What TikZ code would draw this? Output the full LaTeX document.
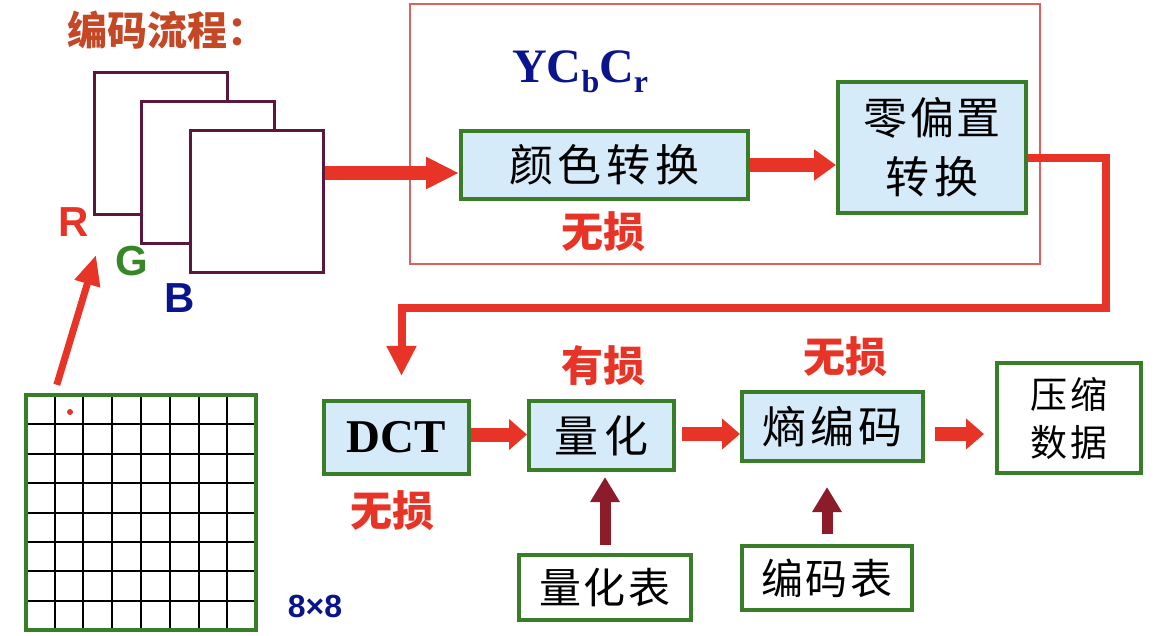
\documentclass[tikz,border=0pt]{standalone}
\usepackage{fontspec}
\setmainfont{Liberation Serif}
\setsansfont{Liberation Sans}
\newfontfamily\cjk{Noto Sans CJK SC}
\usetikzlibrary{arrows.meta,calc}
\definecolor{titlered}{RGB}{196,72,38}
\definecolor{lblred}{RGB}{232,52,38}
\definecolor{arrred}{RGB}{232,52,38}
\definecolor{boxgreen}{RGB}{58,125,40}
\definecolor{boxblue}{RGB}{214,235,250}
\definecolor{framepurple}{RGB}{90,25,60}
\definecolor{navyblue}{RGB}{10,20,140}
\definecolor{ggreen}{RGB}{55,135,40}
\definecolor{darkred}{RGB}{140,28,42}
\definecolor{framered}{RGB}{225,95,95}
\newcommand\cgap[1]{\hspace{#1pt}}
\begin{document}
\begin{tikzpicture}[x=1pt,y=-1pt,
  box/.style={draw=boxgreen, line width=4pt, fill=boxblue, inner sep=0pt},
  wbox/.style={draw=boxgreen, line width=4pt, fill=white, inner sep=0pt},
  boxtxt/.style={font=\cjk\fontsize{44}{48}\selectfont, text=black},
  lbl/.style={font=\cjk\bfseries\fontsize{42}{46}\selectfont, text=lblred, inner sep=0pt},
  rgbl/.style={font=\sffamily\bfseries\fontsize{42}{46}\selectfont, inner sep=0pt},
  frame/.style={draw=framepurple, line width=3pt, fill=white, minimum width=133pt, minimum height=142pt, inner sep=0pt},
  bigarrow/.style={draw=arrred, line width=14pt, -{Triangle[length=22pt,width=30pt]}},
  bentarrow/.style={draw=arrred, line width=8pt, -{Triangle[length=30pt,width=28pt]}},
  slimarrow/.style={draw=arrred, line width=7pt, -{Triangle[length=30pt,width=25pt]}},
  darkarrow/.style={draw=darkred, line width=11pt, -{Triangle[length=25pt,width=28pt]}}
]
\useasboundingbox (0,0) rectangle (1157,636);

% title
\node[font=\cjk\bfseries\fontsize{40}{44}\selectfont, text=titlered, inner sep=0pt] (title) at (167,30) {编码流程：};

% RGB frames
\node[frame] (frameR) at (161,143.5) {};
\node[frame] (frameG) at (208,172.5) {};
\node[frame] (frameB) at (257,202) {};
\node[rgbl, text=lblred] (lR) at (74,222) {R};
\node[rgbl, text=ggreen] (lG) at (132,261) {G};
\node[rgbl, text=navyblue] (lB) at (180,298) {B};

% 8x8 grid
\node[draw=none, fill=white, minimum width=230pt, minimum height=235pt, inner sep=0pt] (grid) at (141,512.5) {};
\foreach \i in {1,...,7}{
  \draw[black, line width=2pt] ($(grid.north west)!\i/8!(grid.north east)$) -- ($(grid.south west)!\i/8!(grid.south east)$);
  \draw[black, line width=2pt] ($(grid.north west)!\i/8!(grid.south west)$) -- ($(grid.north east)!\i/8!(grid.south east)$);
}
\draw[boxgreen, line width=4pt] (grid.north west) rectangle (grid.south east);
\fill[lblred] (70,412) circle[radius=3pt];
\node[font=\sffamily\bfseries\fontsize{32}{36}\selectfont, text=navyblue, inner sep=0pt] (eight) at (315,606) {8×8};

% arrow grid -> RGB
\coordinate (rgbtip) at (96,255);
\draw[slimarrow] ([xshift=31pt,yshift=10pt]grid.north west) -- (rgbtip);

% red frame
\node[draw=framered, line width=1.2pt, minimum width=630pt, minimum height=260pt, inner sep=0pt] (redframe) at (725,134) {};
\node[font=\bfseries\fontsize{48}{52}\selectfont, text=navyblue, inner sep=0pt, anchor=west] (ycc) at (512,72)
  {YC\raisebox{-10pt}{\fontsize{32}{32}\selectfont b}C\raisebox{-10pt}{\fontsize{32}{32}\selectfont r}};

% upper boxes
\node[box, boxtxt, minimum width=287pt, minimum height=68pt] (color) at (604.5,165) {颜\cgap{5}色\cgap{5}转\cgap{5}换};
\node[box, minimum width=188pt, minimum height=131pt, font=\cjk\fontsize{44}{59}\selectfont, align=center] (zero) at (932,147.5) {零\cgap{3}偏\cgap{3}置\\转\cgap{6}换};
\node[lbl] (l1) at (603,232) {无损};

% lower boxes
\node[box, minimum width=145pt, minimum height=73pt, font=\bfseries\fontsize{47}{50}\selectfont] (dct) at (396.5,437.5) {DCT};
\node[box, boxtxt, minimum width=145pt, minimum height=69pt] (quant) at (601.5,435.5) {量\cgap{6}化};
\node[box, boxtxt, minimum width=181pt, minimum height=69pt] (entropy) at (832.5,426.5) {熵\cgap{4}编\cgap{4}码};
\node[wbox, minimum width=144pt, minimum height=110pt, font=\cjk\fontsize{37}{48}\selectfont, align=center] (comp) at (1069,418) {压\cgap{3}缩\\数\cgap{3}据};
\node[wbox, minimum width=172pt, minimum height=65pt, font=\cjk\fontsize{42}{46}\selectfont] (qtable) at (605,587.5) {量\cgap{3}化\cgap{3}表};
\node[wbox, minimum width=170pt, minimum height=64pt, font=\cjk\fontsize{42}{46}\selectfont] (ctable) at (827,578) {编\cgap{3}码\cgap{3}表};
\node[lbl] (l2) at (392,511) {无损};
\node[lbl] (l3) at (603,366) {有损};
\node[lbl] (l4) at (845,357) {无损};

% connectors
\coordinate (a1) at ([yshift=-8pt]color.west);
\draw[bigarrow, -{Triangle[length=33pt,width=30pt]}] (frameB.east |- a1) -- (a1);
\draw[bigarrow] (color.east) -- (zero.west |- color.east);
\coordinate (c1) at (1106,308);
\draw[bentarrow, line join=miter] ([yshift=-11pt]zero.east) -| (c1) -| ([xshift=5pt,yshift=23pt]dct.north);
\draw[bigarrow, -{Triangle[length=18pt,width=30pt]}] ([yshift=3pt]dct.east) -- ([yshift=3pt]dct.east -| quant.west);
\draw[bigarrow, -{Triangle[length=18pt,width=30pt]}, shorten <=6pt] ([yshift=1.5pt]quant.east) -- ([yshift=1.5pt]quant.east -| entropy.west);
\draw[bigarrow, -{Triangle[length=18pt,width=30pt]}, shorten <=10pt, shorten >=11pt] ([yshift=-7.5pt]entropy.east) -- ([yshift=-7.5pt]entropy.east -| comp.west);
\draw[darkarrow, shorten <=8pt, shorten >=5pt] (qtable.north) -- (qtable.north |- quant.south);
\draw[darkarrow, shorten <=10pt, shorten >=24pt] (ctable.north) -- (ctable.north |- entropy.south);
\end{tikzpicture}
\end{document}
